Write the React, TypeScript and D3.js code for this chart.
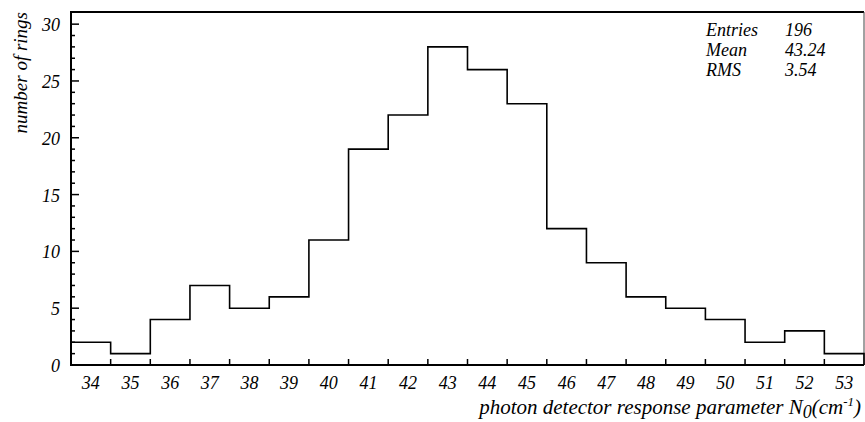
import { useEffect, useRef } from 'react';
import * as d3 from 'd3';

// bin centres (N0 values) and counts per bin
const BIN_CENTERS = [34, 35, 36, 37, 38, 39, 40, 41, 42, 43, 44, 45, 46, 47, 48, 49, 50, 51, 52, 53];
const COUNTS = [2, 1, 4, 7, 5, 6, 11, 19, 22, 28, 26, 23, 12, 9, 6, 5, 4, 2, 3, 1];
const Y_TICKS = [0, 5, 10, 15, 20, 25, 30];
const STATS_LABELS = ['Entries', 'Mean', 'RMS'];
const STATS_VALUES = ['196', '43.24', '3.54'];

const FONT = "'Liberation Serif', 'Times New Roman', Times, 'DejaVu Serif', serif";

const App = () => {
  const svgRef = useRef<SVGSVGElement | null>(null);

  useEffect(() => {
    if (!svgRef.current) return;
    const width = 865;
    const height = 422;
    const left = 71, right = 864, top = 12, bottom = 365;

    const svg = d3.select(svgRef.current);
    svg.selectAll('*').remove();
    svg.attr('width', width).attr('height', height)
      .attr('font-family', FONT).attr('font-style', 'italic');

    const x = d3.scaleLinear().domain([33.5, 53.5]).range([left, right]);
    const y = d3.scaleLinear().domain([0, 31.07]).range([bottom, top]);

    // frame
    svg.append('line').attr('x1', left).attr('x2', right).attr('y1', top).attr('y2', top)
      .attr('stroke', '#000').attr('stroke-width', 2);
    svg.append('line').attr('x1', right).attr('x2', right).attr('y1', top).attr('y2', bottom)
      .attr('stroke', '#444').attr('stroke-width', 1);

    // histogram outline
    const pts: [number, number][] = [];
    BIN_CENTERS.forEach((c, i) => {
      pts.push([x(c - 0.5), y(COUNTS[i])]);
      pts.push([x(c + 0.5), y(COUNTS[i])]);
    });
    pts.unshift([x(BIN_CENTERS[0] - 0.5), y(0)]);
    pts.push([x(BIN_CENTERS[BIN_CENTERS.length - 1] + 0.5), y(0)]);
    svg.append('path')
      .attr('d', d3.line()(pts) as string)
      .attr('fill', 'none').attr('stroke', '#000').attr('stroke-width', 1.6);

    // x axis: ticks at bin edges, labels at bin centres
    svg.append('line').attr('x1', left).attr('x2', right).attr('y1', bottom).attr('y2', bottom)
      .attr('stroke', '#000').attr('stroke-width', 2);
    BIN_CENTERS.slice(0, -1).forEach(c => {
      svg.append('line').attr('x1', x(c + 0.5)).attr('x2', x(c + 0.5))
        .attr('y1', bottom).attr('y2', bottom - 6)
        .attr('stroke', '#000').attr('stroke-width', 1.5);
    });
    svg.selectAll('text.xl').data(BIN_CENTERS).join('text')
      .attr('class', 'xl')
      .attr('x', d => x(d)).attr('y', 389)
      .attr('text-anchor', 'middle')
      .attr('font-size', 18)
      .text(d => d);

    // y axis with minor ticks every unit
    svg.append('line').attr('x1', left).attr('x2', left).attr('y1', top - 1).attr('y2', bottom + 1)
      .attr('stroke', '#000').attr('stroke-width', 2);
    d3.range(1, 31).forEach(v => {
      const major = v % 5 === 0;
      svg.append('line').attr('x1', left).attr('x2', left + (major ? 8 : 4))
        .attr('y1', y(v)).attr('y2', y(v))
        .attr('stroke', '#000').attr('stroke-width', 1.5);
    });
    svg.selectAll('text.yl').data(Y_TICKS).join('text')
      .attr('class', 'yl')
      .attr('x', 60).attr('y', d => y(d) + 7)
      .attr('text-anchor', 'end')
      .attr('font-size', 18)
      .text(d => d);

    // axis titles
    svg.append('text')
      .attr('transform', 'translate(27,12) rotate(-90)')
      .attr('text-anchor', 'end')
      .attr('font-size', 19)
      .text('number of rings');

    const xt = svg.append('text')
      .attr('x', 861).attr('y', 414)
      .attr('text-anchor', 'end')
      .attr('font-size', 21);
    xt.append('tspan').text('photon detector response parameter N');
    xt.append('tspan').attr('dy', 4).attr('font-size', 18).text('0');
    xt.append('tspan').attr('dy', -4).text('(cm');
    xt.append('tspan').attr('dy', -8).attr('font-size', 13).text('-1');
    xt.append('tspan').attr('dy', 8).text(')');

    // stats box
    STATS_LABELS.forEach((lab, i) => {
      svg.append('text').attr('x', 706).attr('y', 36 + i * 20)
        .attr('font-size', 18)
        .text(lab);
      svg.append('text').attr('x', 785).attr('y', 36 + i * 20)
        .attr('font-size', 18)
        .text(STATS_VALUES[i]);
    });
  }, []);

  return (
    <div style={{ position: 'absolute', left: 0, top: 0, width: 865, height: 422, background: '#fff' }}>
      <svg ref={svgRef} style={{ display: 'block' }} />
    </div>
  );
};

export default App;
